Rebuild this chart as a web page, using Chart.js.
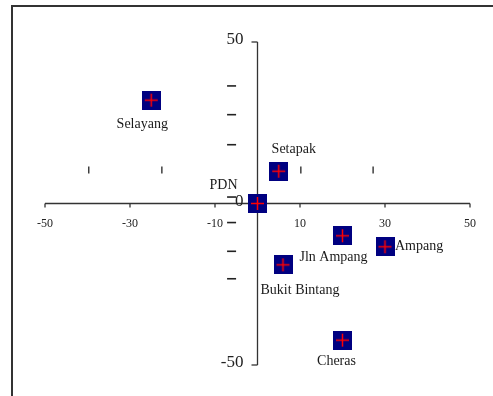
<!DOCTYPE html>
<html>
<head>
<meta charset="utf-8">
<script src="https://cdn.jsdelivr.net/npm/chart.js@4"></script>
<style>
	html, body { margin: 0; padding: 0; background: #fff; }
	#wrap { width: 493px; height: 396px; }
</style>
</head>
<body>
<div id="wrap"><canvas id="mapChart" width="493" height="396"></canvas></div>
<script>
// Places and their positions
const places = ['Selayang', 'Setapak', 'PDN', 'Jln Ampang', 'Ampang', 'Bukit Bintang', 'Cheras'];
const xValues = [-25, 5, 0, 20, 30, 6, 20];
const yValues = [32, 10, 0, -10, -13.4, -19, -42.3];

// Axis tick labels
const xTicks = [-50, -30, -10, 10, 30, 50];
const yTicks = [50, 0, -50];

// Stray minor marks left over in the original picture
const strayDashX = -6.1;
const strayDashY = [36.4, 27.5, 18.2, 2, -5.9, -14.8, -23.3];
const strayTickY = 10.4;
const strayTickX = [-39.7, -22.5, 10.2, 27.2];

// label offsets from the marker, in pixels (dx, dy, align)
const labelPlace = [
	[-9, 24, 'center'], [15, -22, 'center'], [-34, -18, 'center'],
	[-9, 22, 'center'], [10, 0, 'left'], [17, 25, 'center'], [-6, 21, 'center']
];

function makeMarker() {
	const c = document.createElement('canvas');
	c.width = 19; c.height = 19;
	const g = c.getContext('2d');
	g.fillStyle = '#000080';
	g.fillRect(0, 0, 19, 19);
	g.strokeStyle = '#ff0000';
	g.lineWidth = 1.5;
	g.beginPath();
	g.moveTo(3, 9.5); g.lineTo(16, 9.5);
	g.moveTo(9.5, 3); g.lineTo(9.5, 16);
	g.stroke();
	return c;
}

const serif = '"Liberation Serif", "Times New Roman", serif';

const axesPlugin = {
	id: 'crossAxes',
	beforeDatasetsDraw(chart) {
		const ctx = chart.ctx;
		const xs = chart.scales.x, ys = chart.scales.y;
		const x0 = xs.getPixelForValue(0), y0 = ys.getPixelForValue(0);
		ctx.save();
		// frame
		ctx.strokeStyle = '#333';
		ctx.lineWidth = 2;
		ctx.beginPath();
		ctx.moveTo(12, 396); ctx.lineTo(12, 6); ctx.lineTo(493, 6);
		ctx.stroke();
		// axis lines
		ctx.strokeStyle = '#333';
		ctx.lineWidth = 1.3;
		ctx.beginPath();
		ctx.moveTo(xs.getPixelForValue(-50), y0); ctx.lineTo(xs.getPixelForValue(50), y0);
		ctx.moveTo(x0, ys.getPixelForValue(50)); ctx.lineTo(x0, ys.getPixelForValue(-50));
		ctx.stroke();
		// x ticks + labels
		ctx.fillStyle = '#222';
		ctx.font = '12px ' + serif;
		ctx.textAlign = 'center';
		ctx.textBaseline = 'middle';
		xTicks.forEach(function(v) {
			const px = xs.getPixelForValue(v);
			ctx.beginPath();
			ctx.moveTo(px, y0); ctx.lineTo(px, y0 + 4);
			ctx.stroke();
			ctx.fillText(String(v), px, y0 + 20);
		});
		// y ticks + labels
		ctx.font = '17px ' + serif;
		ctx.textAlign = 'right';
		yTicks.forEach(function(v) {
			const py = ys.getPixelForValue(v);
			if (v !== 0) {
				ctx.beginPath();
				ctx.moveTo(x0 - 6, py); ctx.lineTo(x0, py);
				ctx.stroke();
			}
			ctx.fillText(String(v), x0 - 14, py - 2);
		});
		ctx.restore();
	},
	afterDatasetsDraw(chart) {
		const ctx = chart.ctx;
		const meta = chart.getDatasetMeta(0);
		ctx.save();
		ctx.fillStyle = '#1a1a1a';
		ctx.font = '14px ' + serif;
		ctx.textBaseline = 'middle';
		meta.data.forEach(function(pt, i) {
			const p = labelPlace[i];
			ctx.textAlign = p[2];
			ctx.fillText(places[i], pt.x + p[0], pt.y + p[1]);
		});
		ctx.restore();
	}
};

const ctx = document.getElementById('mapChart').getContext('2d');
new Chart(ctx, {
	type: 'scatter',
	data: {
		datasets: [{
			data: places.map(function(p, i) { return {x: xValues[i], y: yValues[i]}; }),
			pointStyle: makeMarker(),
			order: 0
		}, {
			data: strayDashY.map(function(v) { return {x: strayDashX, y: v}; }),
			pointStyle: 'line',
			pointRadius: 4.5,
			borderColor: '#222',
			borderWidth: 1.6,
			order: 1
		}, {
			data: strayTickX.map(function(v) { return {x: v, y: strayTickY}; }),
			pointStyle: 'line',
			rotation: 90,
			pointRadius: 3.5,
			borderColor: '#222',
			borderWidth: 1.3,
			order: 1
		}]
	},
	options: {
		responsive: false,
		animation: false,
		layout: { padding: { left: 45, right: 23, top: 42, bottom: 31 } },
		scales: {
			x: { type: 'linear', min: -50, max: 50, display: false },
			y: { type: 'linear', min: -50, max: 50, display: false }
		},
		plugins: {
			legend: { display: false },
			tooltip: { enabled: false }
		}
	},
	plugins: [axesPlugin]
});
</script>
</body>
</html>
